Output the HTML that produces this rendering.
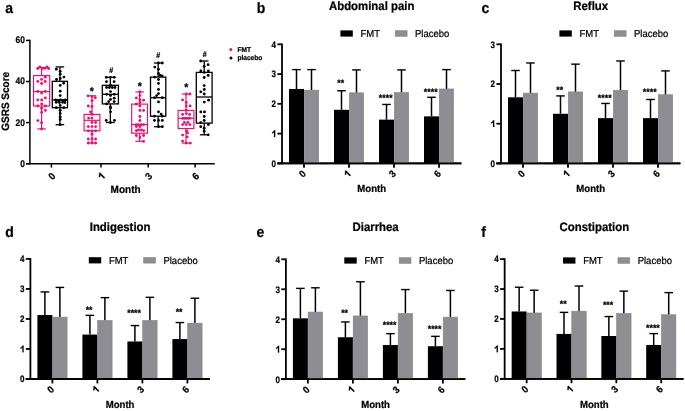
<!DOCTYPE html>
<html><head><meta charset="utf-8"><style>
html,body{margin:0;padding:0;background:#fff;}
svg{display:block;font-family:"Liberation Sans", sans-serif;will-change:transform;text-rendering:geometricPrecision;}
</style></head><body>
<svg width="685" height="411" viewBox="0 0 685 411">
<rect width="685" height="411" fill="#fff"/>
<line x1="29.90" y1="39.80" x2="29.90" y2="164.30" stroke="#000" stroke-width="1.5"/>
<line x1="26.00" y1="163.70" x2="214.80" y2="163.70" stroke="#000" stroke-width="1.5"/>
<line x1="26.00" y1="163.70" x2="29.90" y2="163.70" stroke="#000" stroke-width="1.5"/>
<text x="0.00" y="0.00" font-size="9.6" font-weight="bold" text-anchor="end" fill="#000" stroke="#000" stroke-width="0.22" transform="translate(25.00,166.60) scale(0.88,1.0)">0</text>
<line x1="26.00" y1="122.60" x2="29.90" y2="122.60" stroke="#000" stroke-width="1.5"/>
<text x="0.00" y="0.00" font-size="9.6" font-weight="bold" text-anchor="end" fill="#000" stroke="#000" stroke-width="0.22" transform="translate(25.00,125.50) scale(0.88,1.0)">20</text>
<line x1="26.00" y1="81.50" x2="29.90" y2="81.50" stroke="#000" stroke-width="1.5"/>
<text x="0.00" y="0.00" font-size="9.6" font-weight="bold" text-anchor="end" fill="#000" stroke="#000" stroke-width="0.22" transform="translate(25.00,84.40) scale(0.88,1.0)">40</text>
<line x1="26.00" y1="40.40" x2="29.90" y2="40.40" stroke="#000" stroke-width="1.5"/>
<text x="0.00" y="0.00" font-size="9.6" font-weight="bold" text-anchor="end" fill="#000" stroke="#000" stroke-width="0.22" transform="translate(25.00,43.30) scale(0.88,1.0)">60</text>
<line x1="51.40" y1="163.70" x2="51.40" y2="167.60" stroke="#000" stroke-width="1.5"/>
<text x="0.00" y="3.40" font-size="9.4" font-weight="bold" text-anchor="middle" fill="#000" stroke="#000" stroke-width="0.22" transform="translate(51.70,176.10) rotate(-45) scale(1.0,1.07)">0</text>
<line x1="101.00" y1="163.70" x2="101.00" y2="167.60" stroke="#000" stroke-width="1.5"/>
<path d="M0.445 0L0.300 0L0.300 -0.505C0.245 -0.455 0.160 -0.410 0.065 -0.380L0.065 -0.510C0.125 -0.530 0.195 -0.570 0.250 -0.625C0.290 -0.665 0.318 -0.700 0.332 -0.716L0.445 -0.716Z" fill="#000" stroke="#000" stroke-width="0.0234" transform="translate(101.30,176.10) rotate(-45) scale(1.0,1.07) translate(-2.613,3.400) scale(9.4)"/>
<line x1="148.20" y1="163.70" x2="148.20" y2="167.60" stroke="#000" stroke-width="1.5"/>
<text x="0.00" y="3.40" font-size="9.4" font-weight="bold" text-anchor="middle" fill="#000" stroke="#000" stroke-width="0.22" transform="translate(148.50,176.10) rotate(-45) scale(1.0,1.07)">3</text>
<line x1="195.10" y1="163.70" x2="195.10" y2="167.60" stroke="#000" stroke-width="1.5"/>
<text x="0.00" y="3.40" font-size="9.4" font-weight="bold" text-anchor="middle" fill="#000" stroke="#000" stroke-width="0.22" transform="translate(195.40,176.10) rotate(-45) scale(1.0,1.07)">6</text>
<text x="0.00" y="0.00" font-size="10" font-weight="bold" text-anchor="middle" fill="#000" stroke="#000" stroke-width="0.22" transform="translate(125.60,192.50) scale(1.0,1.07)">Month</text>
<text x="0.00" y="0.00" font-size="10" font-weight="bold" text-anchor="middle" fill="#000" stroke="#000" stroke-width="0.22" transform="translate(8.80,101.30) rotate(-90) scale(1.0,1.07)">GSRS Score</text>
<text x="0.00" y="0.00" font-size="14" font-weight="bold" text-anchor="start" fill="#000" stroke="#000" stroke-width="0.22" transform="translate(5.20,13.10) scale(1.0,1.07)">a</text>
<circle cx="230.8" cy="49.4" r="1.5" fill="#f00a6e"/>
<circle cx="231" cy="58" r="1.5" fill="#000"/>
<text x="0.00" y="0.00" font-size="6.6" font-weight="bold" text-anchor="start" fill="#000" stroke="#000" stroke-width="0.22" transform="translate(237.40,51.90) scale(1.0,1.07)">FMT</text>
<text x="0.00" y="0.00" font-size="6.6" font-weight="bold" text-anchor="start" fill="#000" stroke="#000" stroke-width="0.22" transform="translate(237.40,60.40) scale(1.0,1.07)">placebo</text>
<line x1="41.60" y1="67.40" x2="41.60" y2="75.60" stroke="#f00a6e" stroke-width="1.15"/>
<line x1="41.60" y1="106.00" x2="41.60" y2="128.90" stroke="#f00a6e" stroke-width="1.15"/>
<line x1="37.30" y1="67.40" x2="45.90" y2="67.40" stroke="#f00a6e" stroke-width="1.15"/>
<line x1="37.30" y1="128.90" x2="45.90" y2="128.90" stroke="#f00a6e" stroke-width="1.15"/>
<rect x="33.50" y="75.60" width="16.20" height="30.40" fill="none" stroke="#f00a6e" stroke-width="1.15"/>
<line x1="33.50" y1="91.60" x2="49.70" y2="91.60" stroke="#f00a6e" stroke-width="1.15"/>
<circle cx="37.70" cy="68.50" r="1.42" fill="#f00a6e"/>
<circle cx="39.90" cy="67.00" r="1.42" fill="#f00a6e"/>
<circle cx="42.30" cy="68.30" r="1.42" fill="#f00a6e"/>
<circle cx="44.80" cy="68.30" r="1.42" fill="#f00a6e"/>
<circle cx="47.00" cy="67.00" r="1.42" fill="#f00a6e"/>
<circle cx="48.60" cy="68.50" r="1.42" fill="#f00a6e"/>
<circle cx="45.20" cy="77.20" r="1.42" fill="#f00a6e"/>
<circle cx="41.60" cy="79.40" r="1.42" fill="#f00a6e"/>
<circle cx="37.80" cy="81.40" r="1.42" fill="#f00a6e"/>
<circle cx="45.20" cy="81.40" r="1.42" fill="#f00a6e"/>
<circle cx="41.60" cy="83.50" r="1.42" fill="#f00a6e"/>
<circle cx="37.80" cy="91.40" r="1.42" fill="#f00a6e"/>
<circle cx="41.60" cy="93.00" r="1.42" fill="#f00a6e"/>
<circle cx="45.30" cy="91.40" r="1.42" fill="#f00a6e"/>
<circle cx="45.30" cy="97.90" r="1.42" fill="#f00a6e"/>
<circle cx="37.80" cy="99.90" r="1.42" fill="#f00a6e"/>
<circle cx="41.70" cy="99.90" r="1.42" fill="#f00a6e"/>
<circle cx="41.70" cy="104.00" r="1.42" fill="#f00a6e"/>
<circle cx="37.80" cy="106.00" r="1.42" fill="#f00a6e"/>
<circle cx="45.30" cy="106.00" r="1.42" fill="#f00a6e"/>
<circle cx="41.60" cy="108.20" r="1.42" fill="#f00a6e"/>
<circle cx="45.30" cy="110.30" r="1.42" fill="#f00a6e"/>
<circle cx="41.60" cy="112.30" r="1.42" fill="#f00a6e"/>
<circle cx="37.80" cy="120.60" r="1.42" fill="#f00a6e"/>
<circle cx="41.60" cy="122.70" r="1.42" fill="#f00a6e"/>
<circle cx="41.60" cy="128.90" r="1.42" fill="#f00a6e"/>
<line x1="59.90" y1="66.90" x2="59.90" y2="81.30" stroke="#000" stroke-width="1.3"/>
<line x1="59.90" y1="107.70" x2="59.90" y2="124.70" stroke="#000" stroke-width="1.3"/>
<line x1="55.60" y1="66.90" x2="64.20" y2="66.90" stroke="#000" stroke-width="1.3"/>
<line x1="55.60" y1="124.70" x2="64.20" y2="124.70" stroke="#000" stroke-width="1.3"/>
<rect x="52.30" y="81.30" width="15.20" height="26.40" fill="none" stroke="#000" stroke-width="1.3"/>
<line x1="52.30" y1="99.90" x2="67.50" y2="99.90" stroke="#000" stroke-width="1.3"/>
<circle cx="56.40" cy="69.20" r="1.42" fill="#000"/>
<circle cx="60.20" cy="71.30" r="1.42" fill="#000"/>
<circle cx="60.20" cy="74.20" r="1.42" fill="#000"/>
<circle cx="63.90" cy="77.10" r="1.42" fill="#000"/>
<circle cx="60.20" cy="78.40" r="1.42" fill="#000"/>
<circle cx="56.50" cy="79.50" r="1.42" fill="#000"/>
<circle cx="63.70" cy="83.20" r="1.42" fill="#000"/>
<circle cx="60.20" cy="85.40" r="1.42" fill="#000"/>
<circle cx="60.20" cy="91.20" r="1.42" fill="#000"/>
<circle cx="60.20" cy="95.60" r="1.42" fill="#000"/>
<circle cx="55.60" cy="99.90" r="1.42" fill="#000"/>
<circle cx="58.10" cy="100.40" r="1.42" fill="#000"/>
<circle cx="60.60" cy="99.90" r="1.42" fill="#000"/>
<circle cx="63.10" cy="100.40" r="1.42" fill="#000"/>
<circle cx="65.40" cy="99.90" r="1.42" fill="#000"/>
<circle cx="56.20" cy="102.30" r="1.42" fill="#000"/>
<circle cx="59.40" cy="102.50" r="1.42" fill="#000"/>
<circle cx="62.60" cy="102.30" r="1.42" fill="#000"/>
<circle cx="64.80" cy="102.50" r="1.42" fill="#000"/>
<circle cx="60.20" cy="105.50" r="1.42" fill="#000"/>
<circle cx="56.30" cy="107.70" r="1.42" fill="#000"/>
<circle cx="63.80" cy="107.70" r="1.42" fill="#000"/>
<circle cx="60.20" cy="110.30" r="1.42" fill="#000"/>
<circle cx="60.20" cy="113.50" r="1.42" fill="#000"/>
<circle cx="60.20" cy="116.90" r="1.42" fill="#000"/>
<circle cx="60.20" cy="119.40" r="1.42" fill="#000"/>
<circle cx="60.20" cy="124.70" r="1.42" fill="#000"/>
<line x1="92.00" y1="95.80" x2="92.00" y2="114.40" stroke="#f00a6e" stroke-width="1.15"/>
<line x1="92.00" y1="130.80" x2="92.00" y2="143.00" stroke="#f00a6e" stroke-width="1.15"/>
<line x1="87.70" y1="95.80" x2="96.30" y2="95.80" stroke="#f00a6e" stroke-width="1.15"/>
<line x1="87.70" y1="143.00" x2="96.30" y2="143.00" stroke="#f00a6e" stroke-width="1.15"/>
<rect x="84.10" y="114.40" width="15.80" height="16.40" fill="none" stroke="#f00a6e" stroke-width="1.15"/>
<line x1="84.10" y1="120.30" x2="99.90" y2="120.30" stroke="#f00a6e" stroke-width="1.15"/>
<circle cx="88.00" cy="95.80" r="1.42" fill="#f00a6e"/>
<circle cx="92.00" cy="96.40" r="1.42" fill="#f00a6e"/>
<circle cx="95.30" cy="97.70" r="1.42" fill="#f00a6e"/>
<circle cx="92.00" cy="100.60" r="1.42" fill="#f00a6e"/>
<circle cx="88.30" cy="106.00" r="1.42" fill="#f00a6e"/>
<circle cx="92.00" cy="106.40" r="1.42" fill="#f00a6e"/>
<circle cx="90.50" cy="112.00" r="1.42" fill="#f00a6e"/>
<circle cx="92.00" cy="114.40" r="1.42" fill="#f00a6e"/>
<circle cx="88.60" cy="118.10" r="1.42" fill="#f00a6e"/>
<circle cx="91.90" cy="118.10" r="1.42" fill="#f00a6e"/>
<circle cx="92.00" cy="122.50" r="1.42" fill="#f00a6e"/>
<circle cx="95.60" cy="122.50" r="1.42" fill="#f00a6e"/>
<circle cx="88.30" cy="126.60" r="1.42" fill="#f00a6e"/>
<circle cx="92.00" cy="126.60" r="1.42" fill="#f00a6e"/>
<circle cx="95.60" cy="126.60" r="1.42" fill="#f00a6e"/>
<circle cx="88.30" cy="130.80" r="1.42" fill="#f00a6e"/>
<circle cx="92.00" cy="130.80" r="1.42" fill="#f00a6e"/>
<circle cx="95.60" cy="130.80" r="1.42" fill="#f00a6e"/>
<circle cx="92.00" cy="134.20" r="1.42" fill="#f00a6e"/>
<circle cx="88.30" cy="139.00" r="1.42" fill="#f00a6e"/>
<circle cx="92.00" cy="139.00" r="1.42" fill="#f00a6e"/>
<circle cx="95.60" cy="139.00" r="1.42" fill="#f00a6e"/>
<circle cx="88.30" cy="143.00" r="1.42" fill="#f00a6e"/>
<circle cx="92.00" cy="143.00" r="1.42" fill="#f00a6e"/>
<circle cx="95.60" cy="143.00" r="1.42" fill="#f00a6e"/>
<line x1="110.35" y1="77.30" x2="110.35" y2="85.30" stroke="#000" stroke-width="1.3"/>
<line x1="110.35" y1="103.90" x2="110.35" y2="122.50" stroke="#000" stroke-width="1.3"/>
<line x1="106.05" y1="77.30" x2="114.65" y2="77.30" stroke="#000" stroke-width="1.3"/>
<line x1="106.05" y1="122.50" x2="114.65" y2="122.50" stroke="#000" stroke-width="1.3"/>
<rect x="102.30" y="85.30" width="16.10" height="18.60" fill="none" stroke="#000" stroke-width="1.3"/>
<line x1="102.30" y1="94.30" x2="118.40" y2="94.30" stroke="#000" stroke-width="1.3"/>
<circle cx="106.30" cy="77.30" r="1.42" fill="#000"/>
<circle cx="110.50" cy="77.30" r="1.42" fill="#000"/>
<circle cx="114.30" cy="77.30" r="1.42" fill="#000"/>
<circle cx="106.50" cy="81.70" r="1.42" fill="#000"/>
<circle cx="114.10" cy="81.70" r="1.42" fill="#000"/>
<circle cx="110.50" cy="85.30" r="1.42" fill="#000"/>
<circle cx="106.60" cy="87.50" r="1.42" fill="#000"/>
<circle cx="109.40" cy="87.50" r="1.42" fill="#000"/>
<circle cx="112.30" cy="87.50" r="1.42" fill="#000"/>
<circle cx="115.00" cy="87.50" r="1.42" fill="#000"/>
<circle cx="110.50" cy="91.60" r="1.42" fill="#000"/>
<circle cx="106.60" cy="94.30" r="1.42" fill="#000"/>
<circle cx="114.30" cy="94.30" r="1.42" fill="#000"/>
<circle cx="110.50" cy="95.60" r="1.42" fill="#000"/>
<circle cx="114.20" cy="98.20" r="1.42" fill="#000"/>
<circle cx="110.50" cy="99.40" r="1.42" fill="#000"/>
<circle cx="108.70" cy="101.60" r="1.42" fill="#000"/>
<circle cx="114.20" cy="101.60" r="1.42" fill="#000"/>
<circle cx="106.60" cy="103.90" r="1.42" fill="#000"/>
<circle cx="110.50" cy="106.80" r="1.42" fill="#000"/>
<circle cx="110.50" cy="108.00" r="1.42" fill="#000"/>
<circle cx="110.50" cy="111.80" r="1.42" fill="#000"/>
<circle cx="106.20" cy="120.40" r="1.42" fill="#000"/>
<circle cx="114.50" cy="120.40" r="1.42" fill="#000"/>
<circle cx="110.50" cy="122.50" r="1.42" fill="#000"/>
<line x1="139.60" y1="91.90" x2="139.60" y2="104.10" stroke="#f00a6e" stroke-width="1.15"/>
<line x1="139.60" y1="133.20" x2="139.60" y2="141.30" stroke="#f00a6e" stroke-width="1.15"/>
<line x1="135.30" y1="91.90" x2="143.90" y2="91.90" stroke="#f00a6e" stroke-width="1.15"/>
<line x1="135.30" y1="141.30" x2="143.90" y2="141.30" stroke="#f00a6e" stroke-width="1.15"/>
<rect x="131.70" y="104.10" width="15.80" height="29.10" fill="none" stroke="#f00a6e" stroke-width="1.15"/>
<line x1="131.70" y1="124.60" x2="147.50" y2="124.60" stroke="#f00a6e" stroke-width="1.15"/>
<circle cx="139.90" cy="91.90" r="1.42" fill="#f00a6e"/>
<circle cx="139.90" cy="95.60" r="1.42" fill="#f00a6e"/>
<circle cx="136.30" cy="97.90" r="1.42" fill="#f00a6e"/>
<circle cx="139.90" cy="99.70" r="1.42" fill="#f00a6e"/>
<circle cx="143.60" cy="100.20" r="1.42" fill="#f00a6e"/>
<circle cx="139.90" cy="102.40" r="1.42" fill="#f00a6e"/>
<circle cx="136.30" cy="104.10" r="1.42" fill="#f00a6e"/>
<circle cx="139.90" cy="106.00" r="1.42" fill="#f00a6e"/>
<circle cx="139.90" cy="110.40" r="1.42" fill="#f00a6e"/>
<circle cx="143.60" cy="110.40" r="1.42" fill="#f00a6e"/>
<circle cx="139.90" cy="116.50" r="1.42" fill="#f00a6e"/>
<circle cx="139.90" cy="120.50" r="1.42" fill="#f00a6e"/>
<circle cx="136.20" cy="124.60" r="1.42" fill="#f00a6e"/>
<circle cx="138.60" cy="124.60" r="1.42" fill="#f00a6e"/>
<circle cx="141.20" cy="124.60" r="1.42" fill="#f00a6e"/>
<circle cx="143.60" cy="124.60" r="1.42" fill="#f00a6e"/>
<circle cx="136.30" cy="126.60" r="1.42" fill="#f00a6e"/>
<circle cx="139.90" cy="126.60" r="1.42" fill="#f00a6e"/>
<circle cx="136.30" cy="130.60" r="1.42" fill="#f00a6e"/>
<circle cx="138.50" cy="129.90" r="1.42" fill="#f00a6e"/>
<circle cx="141.30" cy="129.90" r="1.42" fill="#f00a6e"/>
<circle cx="143.60" cy="130.60" r="1.42" fill="#f00a6e"/>
<circle cx="136.30" cy="135.50" r="1.42" fill="#f00a6e"/>
<circle cx="143.60" cy="135.50" r="1.42" fill="#f00a6e"/>
<circle cx="139.90" cy="137.40" r="1.42" fill="#f00a6e"/>
<circle cx="143.60" cy="141.30" r="1.42" fill="#f00a6e"/>
<line x1="158.15" y1="63.00" x2="158.15" y2="77.10" stroke="#000" stroke-width="1.3"/>
<line x1="158.15" y1="116.20" x2="158.15" y2="126.70" stroke="#000" stroke-width="1.3"/>
<line x1="153.85" y1="63.00" x2="162.45" y2="63.00" stroke="#000" stroke-width="1.3"/>
<line x1="153.85" y1="126.70" x2="162.45" y2="126.70" stroke="#000" stroke-width="1.3"/>
<rect x="150.50" y="77.10" width="15.30" height="39.10" fill="none" stroke="#000" stroke-width="1.3"/>
<line x1="150.50" y1="97.70" x2="165.80" y2="97.70" stroke="#000" stroke-width="1.3"/>
<circle cx="158.50" cy="63.00" r="1.42" fill="#000"/>
<circle cx="162.30" cy="63.00" r="1.42" fill="#000"/>
<circle cx="154.80" cy="67.10" r="1.42" fill="#000"/>
<circle cx="158.50" cy="69.30" r="1.42" fill="#000"/>
<circle cx="158.50" cy="73.40" r="1.42" fill="#000"/>
<circle cx="160.10" cy="75.40" r="1.42" fill="#000"/>
<circle cx="162.10" cy="75.80" r="1.42" fill="#000"/>
<circle cx="154.80" cy="77.10" r="1.42" fill="#000"/>
<circle cx="158.50" cy="79.50" r="1.42" fill="#000"/>
<circle cx="158.50" cy="83.40" r="1.42" fill="#000"/>
<circle cx="158.50" cy="89.50" r="1.42" fill="#000"/>
<circle cx="158.50" cy="93.60" r="1.42" fill="#000"/>
<circle cx="156.70" cy="95.60" r="1.42" fill="#000"/>
<circle cx="154.50" cy="97.70" r="1.42" fill="#000"/>
<circle cx="162.30" cy="97.70" r="1.42" fill="#000"/>
<circle cx="158.50" cy="101.90" r="1.42" fill="#000"/>
<circle cx="158.50" cy="111.80" r="1.42" fill="#000"/>
<circle cx="161.10" cy="114.10" r="1.42" fill="#000"/>
<circle cx="154.50" cy="116.20" r="1.42" fill="#000"/>
<circle cx="162.30" cy="116.20" r="1.42" fill="#000"/>
<circle cx="154.50" cy="120.40" r="1.42" fill="#000"/>
<circle cx="158.50" cy="120.40" r="1.42" fill="#000"/>
<circle cx="162.30" cy="120.40" r="1.42" fill="#000"/>
<circle cx="158.50" cy="126.70" r="1.42" fill="#000"/>
<circle cx="162.30" cy="126.70" r="1.42" fill="#000"/>
<line x1="186.00" y1="94.00" x2="186.00" y2="110.40" stroke="#f00a6e" stroke-width="1.15"/>
<line x1="186.00" y1="128.50" x2="186.00" y2="143.10" stroke="#f00a6e" stroke-width="1.15"/>
<line x1="181.70" y1="94.00" x2="190.30" y2="94.00" stroke="#f00a6e" stroke-width="1.15"/>
<line x1="181.70" y1="143.10" x2="190.30" y2="143.10" stroke="#f00a6e" stroke-width="1.15"/>
<rect x="178.10" y="110.40" width="15.80" height="18.10" fill="none" stroke="#f00a6e" stroke-width="1.15"/>
<line x1="178.10" y1="118.30" x2="193.90" y2="118.30" stroke="#f00a6e" stroke-width="1.15"/>
<circle cx="186.20" cy="94.00" r="1.42" fill="#f00a6e"/>
<circle cx="190.00" cy="94.00" r="1.42" fill="#f00a6e"/>
<circle cx="182.60" cy="99.90" r="1.42" fill="#f00a6e"/>
<circle cx="186.20" cy="102.40" r="1.42" fill="#f00a6e"/>
<circle cx="186.20" cy="106.00" r="1.42" fill="#f00a6e"/>
<circle cx="190.10" cy="106.00" r="1.42" fill="#f00a6e"/>
<circle cx="186.20" cy="110.40" r="1.42" fill="#f00a6e"/>
<circle cx="182.60" cy="114.40" r="1.42" fill="#f00a6e"/>
<circle cx="186.30" cy="113.60" r="1.42" fill="#f00a6e"/>
<circle cx="189.60" cy="114.40" r="1.42" fill="#f00a6e"/>
<circle cx="182.60" cy="118.30" r="1.42" fill="#f00a6e"/>
<circle cx="184.40" cy="118.30" r="1.42" fill="#f00a6e"/>
<circle cx="186.20" cy="118.30" r="1.42" fill="#f00a6e"/>
<circle cx="188.00" cy="118.30" r="1.42" fill="#f00a6e"/>
<circle cx="190.00" cy="118.30" r="1.42" fill="#f00a6e"/>
<circle cx="182.60" cy="124.60" r="1.42" fill="#f00a6e"/>
<circle cx="184.40" cy="122.40" r="1.42" fill="#f00a6e"/>
<circle cx="186.20" cy="124.60" r="1.42" fill="#f00a6e"/>
<circle cx="188.00" cy="122.40" r="1.42" fill="#f00a6e"/>
<circle cx="190.00" cy="124.60" r="1.42" fill="#f00a6e"/>
<circle cx="186.70" cy="130.90" r="1.42" fill="#f00a6e"/>
<circle cx="187.50" cy="132.90" r="1.42" fill="#f00a6e"/>
<circle cx="182.60" cy="135.10" r="1.42" fill="#f00a6e"/>
<circle cx="187.20" cy="136.80" r="1.42" fill="#f00a6e"/>
<circle cx="182.60" cy="141.10" r="1.42" fill="#f00a6e"/>
<circle cx="186.20" cy="143.10" r="1.42" fill="#f00a6e"/>
<circle cx="190.40" cy="143.10" r="1.42" fill="#f00a6e"/>
<line x1="204.20" y1="61.00" x2="204.20" y2="72.40" stroke="#000" stroke-width="1.3"/>
<line x1="204.20" y1="123.10" x2="204.20" y2="134.80" stroke="#000" stroke-width="1.3"/>
<line x1="199.90" y1="61.00" x2="208.50" y2="61.00" stroke="#000" stroke-width="1.3"/>
<line x1="199.90" y1="134.80" x2="208.50" y2="134.80" stroke="#000" stroke-width="1.3"/>
<rect x="196.30" y="72.40" width="15.80" height="50.70" fill="none" stroke="#000" stroke-width="1.3"/>
<line x1="196.30" y1="97.00" x2="212.10" y2="97.00" stroke="#000" stroke-width="1.3"/>
<circle cx="200.70" cy="61.00" r="1.42" fill="#000"/>
<circle cx="208.10" cy="64.70" r="1.42" fill="#000"/>
<circle cx="204.20" cy="66.30" r="1.42" fill="#000"/>
<circle cx="200.80" cy="71.00" r="1.42" fill="#000"/>
<circle cx="204.20" cy="72.40" r="1.42" fill="#000"/>
<circle cx="208.40" cy="71.00" r="1.42" fill="#000"/>
<circle cx="208.20" cy="75.40" r="1.42" fill="#000"/>
<circle cx="204.20" cy="77.50" r="1.42" fill="#000"/>
<circle cx="204.20" cy="85.60" r="1.42" fill="#000"/>
<circle cx="204.30" cy="89.50" r="1.42" fill="#000"/>
<circle cx="200.80" cy="91.80" r="1.42" fill="#000"/>
<circle cx="204.20" cy="94.00" r="1.42" fill="#000"/>
<circle cx="208.60" cy="100.20" r="1.42" fill="#000"/>
<circle cx="204.30" cy="102.10" r="1.42" fill="#000"/>
<circle cx="200.80" cy="111.90" r="1.42" fill="#000"/>
<circle cx="204.50" cy="111.90" r="1.42" fill="#000"/>
<circle cx="204.20" cy="116.50" r="1.42" fill="#000"/>
<circle cx="204.20" cy="120.50" r="1.42" fill="#000"/>
<circle cx="200.80" cy="122.60" r="1.42" fill="#000"/>
<circle cx="208.30" cy="124.60" r="1.42" fill="#000"/>
<circle cx="200.80" cy="126.70" r="1.42" fill="#000"/>
<circle cx="204.20" cy="128.20" r="1.42" fill="#000"/>
<circle cx="204.20" cy="131.20" r="1.42" fill="#000"/>
<circle cx="208.20" cy="134.80" r="1.42" fill="#000"/>
<text x="0.00" y="0.00" font-size="10.5" font-weight="bold" text-anchor="middle" fill="#000" stroke="#000" stroke-width="0.22" transform="translate(91.90,94.60) scale(1.0,1.07)">*</text>
<text x="0.00" y="0.00" font-size="10.5" font-weight="bold" text-anchor="middle" fill="#000" stroke="#000" stroke-width="0.22" transform="translate(139.90,89.50) scale(1.0,1.07)">*</text>
<text x="0.00" y="0.00" font-size="10.5" font-weight="bold" text-anchor="middle" fill="#000" stroke="#000" stroke-width="0.22" transform="translate(186.20,91.40) scale(1.0,1.07)">*</text>
<text x="0.00" y="0.00" font-size="7.6" font-weight="bold" text-anchor="middle" fill="#000" stroke="#000" stroke-width="0.22" transform="translate(111.10,72.70) scale(0.92,1.07)">#</text>
<text x="0.00" y="0.00" font-size="7.6" font-weight="bold" text-anchor="middle" fill="#000" stroke="#000" stroke-width="0.22" transform="translate(158.20,57.70) scale(0.92,1.07)">#</text>
<text x="0.00" y="0.00" font-size="7.6" font-weight="bold" text-anchor="middle" fill="#000" stroke="#000" stroke-width="0.22" transform="translate(204.70,57.40) scale(0.92,1.07)">#</text>
<line x1="282.00" y1="43.40" x2="282.00" y2="164.30" stroke="#000" stroke-width="1.8"/>
<line x1="277.40" y1="163.40" x2="461.40" y2="163.40" stroke="#000" stroke-width="1.8"/>
<line x1="277.40" y1="163.40" x2="282.00" y2="163.40" stroke="#000" stroke-width="1.8"/>
<text x="0.00" y="0.00" font-size="9.4" font-weight="bold" text-anchor="end" fill="#000" stroke="#000" stroke-width="0.22" transform="translate(276.10,166.75) scale(0.86,1.0)">0</text>
<line x1="277.40" y1="133.62" x2="282.00" y2="133.62" stroke="#000" stroke-width="1.8"/>
<path d="M0.445 0L0.300 0L0.300 -0.505C0.245 -0.455 0.160 -0.410 0.065 -0.380L0.065 -0.510C0.125 -0.530 0.195 -0.570 0.250 -0.625C0.290 -0.665 0.318 -0.700 0.332 -0.716L0.445 -0.716Z" fill="#000" stroke="#000" stroke-width="0.0234" transform="translate(276.10,136.97) scale(0.86,1.0) translate(-5.226,0.000) scale(9.4)"/>
<line x1="277.40" y1="103.85" x2="282.00" y2="103.85" stroke="#000" stroke-width="1.8"/>
<text x="0.00" y="0.00" font-size="9.4" font-weight="bold" text-anchor="end" fill="#000" stroke="#000" stroke-width="0.22" transform="translate(276.10,107.20) scale(0.86,1.0)">2</text>
<line x1="277.40" y1="74.08" x2="282.00" y2="74.08" stroke="#000" stroke-width="1.8"/>
<text x="0.00" y="0.00" font-size="9.4" font-weight="bold" text-anchor="end" fill="#000" stroke="#000" stroke-width="0.22" transform="translate(276.10,77.42) scale(0.86,1.0)">3</text>
<line x1="277.40" y1="44.30" x2="282.00" y2="44.30" stroke="#000" stroke-width="1.8"/>
<text x="0.00" y="0.00" font-size="9.4" font-weight="bold" text-anchor="end" fill="#000" stroke="#000" stroke-width="0.22" transform="translate(276.10,47.65) scale(0.86,1.0)">4</text>
<line x1="296.50" y1="69.61" x2="296.50" y2="88.96" stroke="#000" stroke-width="1.5"/>
<line x1="292.20" y1="69.61" x2="300.80" y2="69.61" stroke="#000" stroke-width="1.4"/>
<line x1="311.50" y1="69.61" x2="311.50" y2="90.15" stroke="#000" stroke-width="1.5"/>
<line x1="307.20" y1="69.61" x2="315.80" y2="69.61" stroke="#000" stroke-width="1.4"/>
<rect x="289.00" y="88.96" width="15.00" height="74.44" fill="#000"/>
<rect x="304.30" y="90.15" width="14.40" height="73.25" fill="#8e8d93" stroke="#828187" stroke-width="0.6"/>
<line x1="304.00" y1="163.40" x2="304.00" y2="167.80" stroke="#000" stroke-width="1.8"/>
<text x="0.00" y="3.30" font-size="9.2" font-weight="bold" text-anchor="middle" fill="#000" stroke="#000" stroke-width="0.22" transform="translate(302.20,173.80) rotate(-45) scale(1.0,1.07)">0</text>
<line x1="341.50" y1="90.75" x2="341.50" y2="109.81" stroke="#000" stroke-width="1.5"/>
<line x1="337.20" y1="90.75" x2="345.80" y2="90.75" stroke="#000" stroke-width="1.4"/>
<line x1="356.50" y1="69.91" x2="356.50" y2="92.83" stroke="#000" stroke-width="1.5"/>
<line x1="352.20" y1="69.91" x2="360.80" y2="69.91" stroke="#000" stroke-width="1.4"/>
<rect x="334.00" y="109.81" width="15.00" height="53.59" fill="#000"/>
<rect x="349.30" y="92.83" width="14.40" height="70.57" fill="#8e8d93" stroke="#828187" stroke-width="0.6"/>
<line x1="349.00" y1="163.40" x2="349.00" y2="167.80" stroke="#000" stroke-width="1.8"/>
<path d="M0.445 0L0.300 0L0.300 -0.505C0.245 -0.455 0.160 -0.410 0.065 -0.380L0.065 -0.510C0.125 -0.530 0.195 -0.570 0.250 -0.625C0.290 -0.665 0.318 -0.700 0.332 -0.716L0.445 -0.716Z" fill="#000" stroke="#000" stroke-width="0.0239" transform="translate(347.20,173.80) rotate(-45) scale(1.0,1.07) translate(-2.558,3.300) scale(9.2)"/>
<text x="0.00" y="0.00" font-size="8.8" font-weight="bold" text-anchor="middle" fill="#000" stroke="#000" stroke-width="0.22" transform="translate(340.70,85.50) scale(1.0,1.07)">**</text>
<line x1="386.50" y1="104.45" x2="386.50" y2="119.63" stroke="#000" stroke-width="1.5"/>
<line x1="382.20" y1="104.45" x2="390.80" y2="104.45" stroke="#000" stroke-width="1.4"/>
<line x1="401.50" y1="69.91" x2="401.50" y2="92.54" stroke="#000" stroke-width="1.5"/>
<line x1="397.20" y1="69.91" x2="405.80" y2="69.91" stroke="#000" stroke-width="1.4"/>
<rect x="379.00" y="119.63" width="15.00" height="43.77" fill="#000"/>
<rect x="394.30" y="92.54" width="14.40" height="70.86" fill="#8e8d93" stroke="#828187" stroke-width="0.6"/>
<line x1="394.00" y1="163.40" x2="394.00" y2="167.80" stroke="#000" stroke-width="1.8"/>
<text x="0.00" y="3.30" font-size="9.2" font-weight="bold" text-anchor="middle" fill="#000" stroke="#000" stroke-width="0.22" transform="translate(392.20,173.80) rotate(-45) scale(1.0,1.07)">3</text>
<text x="0.00" y="0.00" font-size="8.8" font-weight="bold" text-anchor="middle" fill="#000" stroke="#000" stroke-width="0.22" transform="translate(385.70,101.00) scale(1.0,1.07)">****</text>
<line x1="431.50" y1="97.30" x2="431.50" y2="116.36" stroke="#000" stroke-width="1.5"/>
<line x1="427.20" y1="97.30" x2="435.80" y2="97.30" stroke="#000" stroke-width="1.4"/>
<line x1="446.50" y1="69.61" x2="446.50" y2="88.96" stroke="#000" stroke-width="1.5"/>
<line x1="442.20" y1="69.61" x2="450.80" y2="69.61" stroke="#000" stroke-width="1.4"/>
<rect x="424.00" y="116.36" width="15.00" height="47.04" fill="#000"/>
<rect x="439.30" y="88.96" width="14.40" height="74.44" fill="#8e8d93" stroke="#828187" stroke-width="0.6"/>
<line x1="439.00" y1="163.40" x2="439.00" y2="167.80" stroke="#000" stroke-width="1.8"/>
<text x="0.00" y="3.30" font-size="9.2" font-weight="bold" text-anchor="middle" fill="#000" stroke="#000" stroke-width="0.22" transform="translate(437.20,173.80) rotate(-45) scale(1.0,1.07)">6</text>
<text x="0.00" y="0.00" font-size="8.8" font-weight="bold" text-anchor="middle" fill="#000" stroke="#000" stroke-width="0.22" transform="translate(430.70,94.70) scale(1.0,1.07)">****</text>
<line x1="277.40" y1="163.40" x2="461.40" y2="163.40" stroke="#000" stroke-width="1.8"/>
<text x="0.00" y="0.00" font-size="11.4" font-weight="bold" text-anchor="middle" fill="#000" stroke="#000" stroke-width="0.22" transform="translate(371.70,9.80) scale(1.0,1.07)">Abdominal pain</text>
<text x="0.00" y="0.00" font-size="9.6" font-weight="bold" text-anchor="middle" fill="#000" stroke="#000" stroke-width="0.22" transform="translate(371.70,192.10) scale(1.0,1.07)">Month</text>
<rect x="340.40" y="30.40" width="12.40" height="6.20" fill="#000"/>
<text x="0.00" y="0.00" font-size="9.5" font-weight="normal" text-anchor="start" fill="#000" stroke="#000" stroke-width="0.22" transform="translate(360.50,36.70) scale(1.0,1.07)">FMT</text>
<rect x="395.30" y="30.70" width="11.8" height="5.6" fill="#8e8d93" stroke="#828187" stroke-width="0.6"/>
<text x="0.00" y="0.00" font-size="9.5" font-weight="normal" text-anchor="start" fill="#000" stroke="#000" stroke-width="0.22" transform="translate(415.00,36.70) scale(1.0,1.07)">Placebo</text>
<text x="0.00" y="0.00" font-size="14" font-weight="bold" text-anchor="start" fill="#000" stroke="#000" stroke-width="0.22" transform="translate(256.80,12.90) scale(1.0,1.07)">b</text>
<line x1="501.00" y1="43.40" x2="501.00" y2="164.30" stroke="#000" stroke-width="1.8"/>
<line x1="496.40" y1="163.40" x2="680.40" y2="163.40" stroke="#000" stroke-width="1.8"/>
<line x1="496.40" y1="163.40" x2="501.00" y2="163.40" stroke="#000" stroke-width="1.8"/>
<text x="0.00" y="0.00" font-size="9.4" font-weight="bold" text-anchor="end" fill="#000" stroke="#000" stroke-width="0.22" transform="translate(495.10,166.75) scale(0.86,1.0)">0</text>
<line x1="496.40" y1="123.70" x2="501.00" y2="123.70" stroke="#000" stroke-width="1.8"/>
<path d="M0.445 0L0.300 0L0.300 -0.505C0.245 -0.455 0.160 -0.410 0.065 -0.380L0.065 -0.510C0.125 -0.530 0.195 -0.570 0.250 -0.625C0.290 -0.665 0.318 -0.700 0.332 -0.716L0.445 -0.716Z" fill="#000" stroke="#000" stroke-width="0.0234" transform="translate(495.10,127.05) scale(0.86,1.0) translate(-5.226,0.000) scale(9.4)"/>
<line x1="496.40" y1="84.00" x2="501.00" y2="84.00" stroke="#000" stroke-width="1.8"/>
<text x="0.00" y="0.00" font-size="9.4" font-weight="bold" text-anchor="end" fill="#000" stroke="#000" stroke-width="0.22" transform="translate(495.10,87.35) scale(0.86,1.0)">2</text>
<line x1="496.40" y1="44.30" x2="501.00" y2="44.30" stroke="#000" stroke-width="1.8"/>
<text x="0.00" y="0.00" font-size="9.4" font-weight="bold" text-anchor="end" fill="#000" stroke="#000" stroke-width="0.22" transform="translate(495.10,47.65) scale(0.86,1.0)">3</text>
<line x1="515.50" y1="70.50" x2="515.50" y2="97.30" stroke="#000" stroke-width="1.5"/>
<line x1="511.20" y1="70.50" x2="519.80" y2="70.50" stroke="#000" stroke-width="1.4"/>
<line x1="530.50" y1="62.96" x2="530.50" y2="93.13" stroke="#000" stroke-width="1.5"/>
<line x1="526.20" y1="62.96" x2="534.80" y2="62.96" stroke="#000" stroke-width="1.4"/>
<rect x="508.00" y="97.30" width="15.00" height="66.10" fill="#000"/>
<rect x="523.30" y="93.13" width="14.40" height="70.27" fill="#8e8d93" stroke="#828187" stroke-width="0.6"/>
<line x1="523.00" y1="163.40" x2="523.00" y2="167.80" stroke="#000" stroke-width="1.8"/>
<text x="0.00" y="3.30" font-size="9.2" font-weight="bold" text-anchor="middle" fill="#000" stroke="#000" stroke-width="0.22" transform="translate(521.20,173.80) rotate(-45) scale(1.0,1.07)">0</text>
<line x1="560.50" y1="95.91" x2="560.50" y2="113.78" stroke="#000" stroke-width="1.5"/>
<line x1="556.20" y1="95.91" x2="564.80" y2="95.91" stroke="#000" stroke-width="1.4"/>
<line x1="575.50" y1="64.15" x2="575.50" y2="91.94" stroke="#000" stroke-width="1.5"/>
<line x1="571.20" y1="64.15" x2="579.80" y2="64.15" stroke="#000" stroke-width="1.4"/>
<rect x="553.00" y="113.78" width="15.00" height="49.62" fill="#000"/>
<rect x="568.30" y="91.94" width="14.40" height="71.46" fill="#8e8d93" stroke="#828187" stroke-width="0.6"/>
<line x1="568.00" y1="163.40" x2="568.00" y2="167.80" stroke="#000" stroke-width="1.8"/>
<path d="M0.445 0L0.300 0L0.300 -0.505C0.245 -0.455 0.160 -0.410 0.065 -0.380L0.065 -0.510C0.125 -0.530 0.195 -0.570 0.250 -0.625C0.290 -0.665 0.318 -0.700 0.332 -0.716L0.445 -0.716Z" fill="#000" stroke="#000" stroke-width="0.0239" transform="translate(566.20,173.80) rotate(-45) scale(1.0,1.07) translate(-2.558,3.300) scale(9.2)"/>
<text x="0.00" y="0.00" font-size="8.8" font-weight="bold" text-anchor="middle" fill="#000" stroke="#000" stroke-width="0.22" transform="translate(559.70,92.50) scale(1.0,1.07)">**</text>
<line x1="605.50" y1="103.45" x2="605.50" y2="118.14" stroke="#000" stroke-width="1.5"/>
<line x1="601.20" y1="103.45" x2="609.80" y2="103.45" stroke="#000" stroke-width="1.4"/>
<line x1="620.50" y1="60.97" x2="620.50" y2="90.35" stroke="#000" stroke-width="1.5"/>
<line x1="616.20" y1="60.97" x2="624.80" y2="60.97" stroke="#000" stroke-width="1.4"/>
<rect x="598.00" y="118.14" width="15.00" height="45.26" fill="#000"/>
<rect x="613.30" y="90.35" width="14.40" height="73.05" fill="#8e8d93" stroke="#828187" stroke-width="0.6"/>
<line x1="613.00" y1="163.40" x2="613.00" y2="167.80" stroke="#000" stroke-width="1.8"/>
<text x="0.00" y="3.30" font-size="9.2" font-weight="bold" text-anchor="middle" fill="#000" stroke="#000" stroke-width="0.22" transform="translate(611.20,173.80) rotate(-45) scale(1.0,1.07)">3</text>
<text x="0.00" y="0.00" font-size="8.8" font-weight="bold" text-anchor="middle" fill="#000" stroke="#000" stroke-width="0.22" transform="translate(604.70,101.20) scale(1.0,1.07)">****</text>
<line x1="650.50" y1="99.48" x2="650.50" y2="118.14" stroke="#000" stroke-width="1.5"/>
<line x1="646.20" y1="99.48" x2="654.80" y2="99.48" stroke="#000" stroke-width="1.4"/>
<line x1="665.50" y1="70.90" x2="665.50" y2="94.72" stroke="#000" stroke-width="1.5"/>
<line x1="661.20" y1="70.90" x2="669.80" y2="70.90" stroke="#000" stroke-width="1.4"/>
<rect x="643.00" y="118.14" width="15.00" height="45.26" fill="#000"/>
<rect x="658.30" y="94.72" width="14.40" height="68.68" fill="#8e8d93" stroke="#828187" stroke-width="0.6"/>
<line x1="658.00" y1="163.40" x2="658.00" y2="167.80" stroke="#000" stroke-width="1.8"/>
<text x="0.00" y="3.30" font-size="9.2" font-weight="bold" text-anchor="middle" fill="#000" stroke="#000" stroke-width="0.22" transform="translate(656.20,173.80) rotate(-45) scale(1.0,1.07)">6</text>
<text x="0.00" y="0.00" font-size="8.8" font-weight="bold" text-anchor="middle" fill="#000" stroke="#000" stroke-width="0.22" transform="translate(649.70,94.50) scale(1.0,1.07)">****</text>
<line x1="496.40" y1="163.40" x2="680.40" y2="163.40" stroke="#000" stroke-width="1.8"/>
<text x="0.00" y="0.00" font-size="11.4" font-weight="bold" text-anchor="middle" fill="#000" stroke="#000" stroke-width="0.22" transform="translate(590.70,9.80) scale(1.0,1.07)">Reflux</text>
<text x="0.00" y="0.00" font-size="9.6" font-weight="bold" text-anchor="middle" fill="#000" stroke="#000" stroke-width="0.22" transform="translate(590.70,192.10) scale(1.0,1.07)">Month</text>
<rect x="559.40" y="30.40" width="12.40" height="6.20" fill="#000"/>
<text x="0.00" y="0.00" font-size="9.5" font-weight="normal" text-anchor="start" fill="#000" stroke="#000" stroke-width="0.22" transform="translate(579.50,36.70) scale(1.0,1.07)">FMT</text>
<rect x="614.30" y="30.70" width="11.8" height="5.6" fill="#8e8d93" stroke="#828187" stroke-width="0.6"/>
<text x="0.00" y="0.00" font-size="9.5" font-weight="normal" text-anchor="start" fill="#000" stroke="#000" stroke-width="0.22" transform="translate(634.00,36.70) scale(1.0,1.07)">Placebo</text>
<text x="0.00" y="0.00" font-size="14" font-weight="bold" text-anchor="start" fill="#000" stroke="#000" stroke-width="0.22" transform="translate(481.50,13.20) scale(1.0,1.07)">c</text>
<line x1="30.40" y1="258.00" x2="30.40" y2="379.90" stroke="#000" stroke-width="1.8"/>
<line x1="25.80" y1="379.00" x2="209.80" y2="379.00" stroke="#000" stroke-width="1.8"/>
<line x1="25.80" y1="379.00" x2="30.40" y2="379.00" stroke="#000" stroke-width="1.8"/>
<text x="0.00" y="0.00" font-size="9.4" font-weight="bold" text-anchor="end" fill="#000" stroke="#000" stroke-width="0.22" transform="translate(24.50,382.35) scale(0.86,1.0)">0</text>
<line x1="25.80" y1="348.98" x2="30.40" y2="348.98" stroke="#000" stroke-width="1.8"/>
<path d="M0.445 0L0.300 0L0.300 -0.505C0.245 -0.455 0.160 -0.410 0.065 -0.380L0.065 -0.510C0.125 -0.530 0.195 -0.570 0.250 -0.625C0.290 -0.665 0.318 -0.700 0.332 -0.716L0.445 -0.716Z" fill="#000" stroke="#000" stroke-width="0.0234" transform="translate(24.50,352.33) scale(0.86,1.0) translate(-5.226,0.000) scale(9.4)"/>
<line x1="25.80" y1="318.95" x2="30.40" y2="318.95" stroke="#000" stroke-width="1.8"/>
<text x="0.00" y="0.00" font-size="9.4" font-weight="bold" text-anchor="end" fill="#000" stroke="#000" stroke-width="0.22" transform="translate(24.50,322.30) scale(0.86,1.0)">2</text>
<line x1="25.80" y1="288.92" x2="30.40" y2="288.92" stroke="#000" stroke-width="1.8"/>
<text x="0.00" y="0.00" font-size="9.4" font-weight="bold" text-anchor="end" fill="#000" stroke="#000" stroke-width="0.22" transform="translate(24.50,292.27) scale(0.86,1.0)">3</text>
<line x1="25.80" y1="258.90" x2="30.40" y2="258.90" stroke="#000" stroke-width="1.8"/>
<text x="0.00" y="0.00" font-size="9.4" font-weight="bold" text-anchor="end" fill="#000" stroke="#000" stroke-width="0.22" transform="translate(24.50,262.25) scale(0.86,1.0)">4</text>
<line x1="44.90" y1="291.93" x2="44.90" y2="315.05" stroke="#000" stroke-width="1.5"/>
<line x1="40.60" y1="291.93" x2="49.20" y2="291.93" stroke="#000" stroke-width="1.4"/>
<line x1="59.90" y1="287.42" x2="59.90" y2="317.15" stroke="#000" stroke-width="1.5"/>
<line x1="55.60" y1="287.42" x2="64.20" y2="287.42" stroke="#000" stroke-width="1.4"/>
<rect x="37.40" y="315.05" width="15.00" height="63.95" fill="#000"/>
<rect x="52.70" y="317.15" width="14.40" height="61.85" fill="#8e8d93" stroke="#828187" stroke-width="0.6"/>
<line x1="52.40" y1="379.00" x2="52.40" y2="383.40" stroke="#000" stroke-width="1.8"/>
<text x="0.00" y="3.30" font-size="9.2" font-weight="bold" text-anchor="middle" fill="#000" stroke="#000" stroke-width="0.22" transform="translate(50.60,389.40) rotate(-45) scale(1.0,1.07)">0</text>
<line x1="89.90" y1="315.35" x2="89.90" y2="334.56" stroke="#000" stroke-width="1.5"/>
<line x1="85.60" y1="315.35" x2="94.20" y2="315.35" stroke="#000" stroke-width="1.4"/>
<line x1="104.90" y1="297.63" x2="104.90" y2="320.45" stroke="#000" stroke-width="1.5"/>
<line x1="100.60" y1="297.63" x2="109.20" y2="297.63" stroke="#000" stroke-width="1.4"/>
<rect x="82.40" y="334.56" width="15.00" height="44.44" fill="#000"/>
<rect x="97.70" y="320.45" width="14.40" height="58.55" fill="#8e8d93" stroke="#828187" stroke-width="0.6"/>
<line x1="97.40" y1="379.00" x2="97.40" y2="383.40" stroke="#000" stroke-width="1.8"/>
<path d="M0.445 0L0.300 0L0.300 -0.505C0.245 -0.455 0.160 -0.410 0.065 -0.380L0.065 -0.510C0.125 -0.530 0.195 -0.570 0.250 -0.625C0.290 -0.665 0.318 -0.700 0.332 -0.716L0.445 -0.716Z" fill="#000" stroke="#000" stroke-width="0.0239" transform="translate(95.60,389.40) rotate(-45) scale(1.0,1.07) translate(-2.558,3.300) scale(9.2)"/>
<text x="0.00" y="0.00" font-size="8.8" font-weight="bold" text-anchor="middle" fill="#000" stroke="#000" stroke-width="0.22" transform="translate(89.10,312.50) scale(1.0,1.07)">**</text>
<line x1="134.90" y1="325.56" x2="134.90" y2="341.47" stroke="#000" stroke-width="1.5"/>
<line x1="130.60" y1="325.56" x2="139.20" y2="325.56" stroke="#000" stroke-width="1.4"/>
<line x1="149.90" y1="297.33" x2="149.90" y2="320.45" stroke="#000" stroke-width="1.5"/>
<line x1="145.60" y1="297.33" x2="154.20" y2="297.33" stroke="#000" stroke-width="1.4"/>
<rect x="127.40" y="341.47" width="15.00" height="37.53" fill="#000"/>
<rect x="142.70" y="320.45" width="14.40" height="58.55" fill="#8e8d93" stroke="#828187" stroke-width="0.6"/>
<line x1="142.40" y1="379.00" x2="142.40" y2="383.40" stroke="#000" stroke-width="1.8"/>
<text x="0.00" y="3.30" font-size="9.2" font-weight="bold" text-anchor="middle" fill="#000" stroke="#000" stroke-width="0.22" transform="translate(140.60,389.40) rotate(-45) scale(1.0,1.07)">3</text>
<text x="0.00" y="0.00" font-size="8.8" font-weight="bold" text-anchor="middle" fill="#000" stroke="#000" stroke-width="0.22" transform="translate(134.10,315.60) scale(1.0,1.07)">****</text>
<line x1="179.90" y1="322.55" x2="179.90" y2="339.07" stroke="#000" stroke-width="1.5"/>
<line x1="175.60" y1="322.55" x2="184.20" y2="322.55" stroke="#000" stroke-width="1.4"/>
<line x1="194.90" y1="298.23" x2="194.90" y2="323.15" stroke="#000" stroke-width="1.5"/>
<line x1="190.60" y1="298.23" x2="199.20" y2="298.23" stroke="#000" stroke-width="1.4"/>
<rect x="172.40" y="339.07" width="15.00" height="39.93" fill="#000"/>
<rect x="187.70" y="323.15" width="14.40" height="55.85" fill="#8e8d93" stroke="#828187" stroke-width="0.6"/>
<line x1="187.40" y1="379.00" x2="187.40" y2="383.40" stroke="#000" stroke-width="1.8"/>
<text x="0.00" y="3.30" font-size="9.2" font-weight="bold" text-anchor="middle" fill="#000" stroke="#000" stroke-width="0.22" transform="translate(185.60,389.40) rotate(-45) scale(1.0,1.07)">6</text>
<text x="0.00" y="0.00" font-size="8.8" font-weight="bold" text-anchor="middle" fill="#000" stroke="#000" stroke-width="0.22" transform="translate(179.10,315.40) scale(1.0,1.07)">**</text>
<line x1="25.80" y1="379.00" x2="209.80" y2="379.00" stroke="#000" stroke-width="1.8"/>
<text x="0.00" y="0.00" font-size="11.4" font-weight="bold" text-anchor="middle" fill="#000" stroke="#000" stroke-width="0.22" transform="translate(120.10,231.20) scale(1.0,1.07)">Indigestion</text>
<text x="0.00" y="0.00" font-size="9.6" font-weight="bold" text-anchor="middle" fill="#000" stroke="#000" stroke-width="0.22" transform="translate(120.10,407.70) scale(1.0,1.07)">Month</text>
<rect x="88.80" y="257.20" width="12.40" height="6.20" fill="#000"/>
<text x="0.00" y="0.00" font-size="9.5" font-weight="normal" text-anchor="start" fill="#000" stroke="#000" stroke-width="0.22" transform="translate(108.90,263.50) scale(1.0,1.07)">FMT</text>
<rect x="143.70" y="257.50" width="11.8" height="5.6" fill="#8e8d93" stroke="#828187" stroke-width="0.6"/>
<text x="0.00" y="0.00" font-size="9.5" font-weight="normal" text-anchor="start" fill="#000" stroke="#000" stroke-width="0.22" transform="translate(163.40,263.50) scale(1.0,1.07)">Placebo</text>
<text x="0.00" y="0.00" font-size="14" font-weight="bold" text-anchor="start" fill="#000" stroke="#000" stroke-width="0.22" transform="translate(5.20,236.90) scale(1.0,1.07)">d</text>
<line x1="285.90" y1="258.40" x2="285.90" y2="380.10" stroke="#000" stroke-width="1.8"/>
<line x1="281.30" y1="379.20" x2="465.30" y2="379.20" stroke="#000" stroke-width="1.8"/>
<line x1="281.30" y1="379.20" x2="285.90" y2="379.20" stroke="#000" stroke-width="1.8"/>
<text x="0.00" y="0.00" font-size="9.4" font-weight="bold" text-anchor="end" fill="#000" stroke="#000" stroke-width="0.22" transform="translate(280.00,382.55) scale(0.86,1.0)">0</text>
<line x1="281.30" y1="349.23" x2="285.90" y2="349.23" stroke="#000" stroke-width="1.8"/>
<path d="M0.445 0L0.300 0L0.300 -0.505C0.245 -0.455 0.160 -0.410 0.065 -0.380L0.065 -0.510C0.125 -0.530 0.195 -0.570 0.250 -0.625C0.290 -0.665 0.318 -0.700 0.332 -0.716L0.445 -0.716Z" fill="#000" stroke="#000" stroke-width="0.0234" transform="translate(280.00,352.58) scale(0.86,1.0) translate(-5.226,0.000) scale(9.4)"/>
<line x1="281.30" y1="319.25" x2="285.90" y2="319.25" stroke="#000" stroke-width="1.8"/>
<text x="0.00" y="0.00" font-size="9.4" font-weight="bold" text-anchor="end" fill="#000" stroke="#000" stroke-width="0.22" transform="translate(280.00,322.60) scale(0.86,1.0)">2</text>
<line x1="281.30" y1="289.27" x2="285.90" y2="289.27" stroke="#000" stroke-width="1.8"/>
<text x="0.00" y="0.00" font-size="9.4" font-weight="bold" text-anchor="end" fill="#000" stroke="#000" stroke-width="0.22" transform="translate(280.00,292.62) scale(0.86,1.0)">3</text>
<line x1="281.30" y1="259.30" x2="285.90" y2="259.30" stroke="#000" stroke-width="1.8"/>
<text x="0.00" y="0.00" font-size="9.4" font-weight="bold" text-anchor="end" fill="#000" stroke="#000" stroke-width="0.22" transform="translate(280.00,262.65) scale(0.86,1.0)">4</text>
<line x1="300.40" y1="288.38" x2="300.40" y2="318.35" stroke="#000" stroke-width="1.5"/>
<line x1="296.10" y1="288.38" x2="304.70" y2="288.38" stroke="#000" stroke-width="1.4"/>
<line x1="315.40" y1="287.78" x2="315.40" y2="312.06" stroke="#000" stroke-width="1.5"/>
<line x1="311.10" y1="287.78" x2="319.70" y2="287.78" stroke="#000" stroke-width="1.4"/>
<rect x="292.90" y="318.35" width="15.00" height="60.85" fill="#000"/>
<rect x="308.20" y="312.06" width="14.40" height="67.14" fill="#8e8d93" stroke="#828187" stroke-width="0.6"/>
<line x1="307.90" y1="379.20" x2="307.90" y2="383.60" stroke="#000" stroke-width="1.8"/>
<text x="0.00" y="3.30" font-size="9.2" font-weight="bold" text-anchor="middle" fill="#000" stroke="#000" stroke-width="0.22" transform="translate(306.10,389.60) rotate(-45) scale(1.0,1.07)">0</text>
<line x1="345.40" y1="321.95" x2="345.40" y2="337.24" stroke="#000" stroke-width="1.5"/>
<line x1="341.10" y1="321.95" x2="349.70" y2="321.95" stroke="#000" stroke-width="1.4"/>
<line x1="360.40" y1="281.78" x2="360.40" y2="315.95" stroke="#000" stroke-width="1.5"/>
<line x1="356.10" y1="281.78" x2="364.70" y2="281.78" stroke="#000" stroke-width="1.4"/>
<rect x="337.90" y="337.24" width="15.00" height="41.96" fill="#000"/>
<rect x="353.20" y="315.95" width="14.40" height="63.25" fill="#8e8d93" stroke="#828187" stroke-width="0.6"/>
<line x1="352.90" y1="379.20" x2="352.90" y2="383.60" stroke="#000" stroke-width="1.8"/>
<path d="M0.445 0L0.300 0L0.300 -0.505C0.245 -0.455 0.160 -0.410 0.065 -0.380L0.065 -0.510C0.125 -0.530 0.195 -0.570 0.250 -0.625C0.290 -0.665 0.318 -0.700 0.332 -0.716L0.445 -0.716Z" fill="#000" stroke="#000" stroke-width="0.0239" transform="translate(351.10,389.60) rotate(-45) scale(1.0,1.07) translate(-2.558,3.300) scale(9.2)"/>
<text x="0.00" y="0.00" font-size="8.8" font-weight="bold" text-anchor="middle" fill="#000" stroke="#000" stroke-width="0.22" transform="translate(344.60,315.60) scale(1.0,1.07)">**</text>
<line x1="390.40" y1="333.64" x2="390.40" y2="345.03" stroke="#000" stroke-width="1.5"/>
<line x1="386.10" y1="333.64" x2="394.70" y2="333.64" stroke="#000" stroke-width="1.4"/>
<line x1="405.40" y1="289.57" x2="405.40" y2="313.55" stroke="#000" stroke-width="1.5"/>
<line x1="401.10" y1="289.57" x2="409.70" y2="289.57" stroke="#000" stroke-width="1.4"/>
<rect x="382.90" y="345.03" width="15.00" height="34.17" fill="#000"/>
<rect x="398.20" y="313.55" width="14.40" height="65.65" fill="#8e8d93" stroke="#828187" stroke-width="0.6"/>
<line x1="397.90" y1="379.20" x2="397.90" y2="383.60" stroke="#000" stroke-width="1.8"/>
<text x="0.00" y="3.30" font-size="9.2" font-weight="bold" text-anchor="middle" fill="#000" stroke="#000" stroke-width="0.22" transform="translate(396.10,389.60) rotate(-45) scale(1.0,1.07)">3</text>
<text x="0.00" y="0.00" font-size="8.8" font-weight="bold" text-anchor="middle" fill="#000" stroke="#000" stroke-width="0.22" transform="translate(389.60,327.80) scale(1.0,1.07)">****</text>
<line x1="435.40" y1="336.34" x2="435.40" y2="346.23" stroke="#000" stroke-width="1.5"/>
<line x1="431.10" y1="336.34" x2="439.70" y2="336.34" stroke="#000" stroke-width="1.4"/>
<line x1="450.40" y1="290.47" x2="450.40" y2="317.15" stroke="#000" stroke-width="1.5"/>
<line x1="446.10" y1="290.47" x2="454.70" y2="290.47" stroke="#000" stroke-width="1.4"/>
<rect x="427.90" y="346.23" width="15.00" height="32.97" fill="#000"/>
<rect x="443.20" y="317.15" width="14.40" height="62.05" fill="#8e8d93" stroke="#828187" stroke-width="0.6"/>
<line x1="442.90" y1="379.20" x2="442.90" y2="383.60" stroke="#000" stroke-width="1.8"/>
<text x="0.00" y="3.30" font-size="9.2" font-weight="bold" text-anchor="middle" fill="#000" stroke="#000" stroke-width="0.22" transform="translate(441.10,389.60) rotate(-45) scale(1.0,1.07)">6</text>
<text x="0.00" y="0.00" font-size="8.8" font-weight="bold" text-anchor="middle" fill="#000" stroke="#000" stroke-width="0.22" transform="translate(434.60,331.50) scale(1.0,1.07)">****</text>
<line x1="281.30" y1="379.20" x2="465.30" y2="379.20" stroke="#000" stroke-width="1.8"/>
<text x="0.00" y="0.00" font-size="11.4" font-weight="bold" text-anchor="middle" fill="#000" stroke="#000" stroke-width="0.22" transform="translate(375.60,231.20) scale(1.0,1.07)">Diarrhea</text>
<text x="0.00" y="0.00" font-size="9.6" font-weight="bold" text-anchor="middle" fill="#000" stroke="#000" stroke-width="0.22" transform="translate(375.60,407.90) scale(1.0,1.07)">Month</text>
<rect x="344.30" y="257.40" width="12.40" height="6.20" fill="#000"/>
<text x="0.00" y="0.00" font-size="9.5" font-weight="normal" text-anchor="start" fill="#000" stroke="#000" stroke-width="0.22" transform="translate(364.40,263.70) scale(1.0,1.07)">FMT</text>
<rect x="399.20" y="257.70" width="11.8" height="5.6" fill="#8e8d93" stroke="#828187" stroke-width="0.6"/>
<text x="0.00" y="0.00" font-size="9.5" font-weight="normal" text-anchor="start" fill="#000" stroke="#000" stroke-width="0.22" transform="translate(418.90,263.70) scale(1.0,1.07)">Placebo</text>
<text x="0.00" y="0.00" font-size="14" font-weight="bold" text-anchor="start" fill="#000" stroke="#000" stroke-width="0.22" transform="translate(256.50,237.00) scale(1.0,1.07)">e</text>
<line x1="504.65" y1="258.20" x2="504.65" y2="379.70" stroke="#000" stroke-width="1.8"/>
<line x1="500.05" y1="378.80" x2="683.45" y2="378.80" stroke="#000" stroke-width="1.8"/>
<line x1="500.05" y1="378.80" x2="504.65" y2="378.80" stroke="#000" stroke-width="1.8"/>
<text x="0.00" y="0.00" font-size="9.4" font-weight="bold" text-anchor="end" fill="#000" stroke="#000" stroke-width="0.22" transform="translate(498.75,382.15) scale(0.86,1.0)">0</text>
<line x1="500.05" y1="348.88" x2="504.65" y2="348.88" stroke="#000" stroke-width="1.8"/>
<path d="M0.445 0L0.300 0L0.300 -0.505C0.245 -0.455 0.160 -0.410 0.065 -0.380L0.065 -0.510C0.125 -0.530 0.195 -0.570 0.250 -0.625C0.290 -0.665 0.318 -0.700 0.332 -0.716L0.445 -0.716Z" fill="#000" stroke="#000" stroke-width="0.0234" transform="translate(498.75,352.23) scale(0.86,1.0) translate(-5.226,0.000) scale(9.4)"/>
<line x1="500.05" y1="318.95" x2="504.65" y2="318.95" stroke="#000" stroke-width="1.8"/>
<text x="0.00" y="0.00" font-size="9.4" font-weight="bold" text-anchor="end" fill="#000" stroke="#000" stroke-width="0.22" transform="translate(498.75,322.30) scale(0.86,1.0)">2</text>
<line x1="500.05" y1="289.03" x2="504.65" y2="289.03" stroke="#000" stroke-width="1.8"/>
<text x="0.00" y="0.00" font-size="9.4" font-weight="bold" text-anchor="end" fill="#000" stroke="#000" stroke-width="0.22" transform="translate(498.75,292.38) scale(0.86,1.0)">3</text>
<line x1="500.05" y1="259.10" x2="504.65" y2="259.10" stroke="#000" stroke-width="1.8"/>
<text x="0.00" y="0.00" font-size="9.4" font-weight="bold" text-anchor="end" fill="#000" stroke="#000" stroke-width="0.22" transform="translate(498.75,262.45) scale(0.86,1.0)">4</text>
<line x1="519.15" y1="287.23" x2="519.15" y2="311.47" stroke="#000" stroke-width="1.5"/>
<line x1="514.85" y1="287.23" x2="523.45" y2="287.23" stroke="#000" stroke-width="1.4"/>
<line x1="534.15" y1="290.22" x2="534.15" y2="312.97" stroke="#000" stroke-width="1.5"/>
<line x1="529.85" y1="290.22" x2="538.45" y2="290.22" stroke="#000" stroke-width="1.4"/>
<rect x="511.65" y="311.47" width="15.00" height="67.33" fill="#000"/>
<rect x="526.95" y="312.97" width="14.40" height="65.83" fill="#8e8d93" stroke="#828187" stroke-width="0.6"/>
<line x1="526.65" y1="378.80" x2="526.65" y2="383.20" stroke="#000" stroke-width="1.8"/>
<text x="0.00" y="3.30" font-size="9.2" font-weight="bold" text-anchor="middle" fill="#000" stroke="#000" stroke-width="0.22" transform="translate(524.85,389.20) rotate(-45) scale(1.0,1.07)">0</text>
<line x1="564.00" y1="312.37" x2="564.00" y2="333.91" stroke="#000" stroke-width="1.5"/>
<line x1="559.70" y1="312.37" x2="568.30" y2="312.37" stroke="#000" stroke-width="1.4"/>
<line x1="579.00" y1="286.03" x2="579.00" y2="311.17" stroke="#000" stroke-width="1.5"/>
<line x1="574.70" y1="286.03" x2="583.30" y2="286.03" stroke="#000" stroke-width="1.4"/>
<rect x="556.50" y="333.91" width="15.00" height="44.89" fill="#000"/>
<rect x="571.80" y="311.17" width="14.40" height="67.63" fill="#8e8d93" stroke="#828187" stroke-width="0.6"/>
<line x1="571.50" y1="378.80" x2="571.50" y2="383.20" stroke="#000" stroke-width="1.8"/>
<path d="M0.445 0L0.300 0L0.300 -0.505C0.245 -0.455 0.160 -0.410 0.065 -0.380L0.065 -0.510C0.125 -0.530 0.195 -0.570 0.250 -0.625C0.290 -0.665 0.318 -0.700 0.332 -0.716L0.445 -0.716Z" fill="#000" stroke="#000" stroke-width="0.0239" transform="translate(569.70,389.20) rotate(-45) scale(1.0,1.07) translate(-2.558,3.300) scale(9.2)"/>
<text x="0.00" y="0.00" font-size="8.8" font-weight="bold" text-anchor="middle" fill="#000" stroke="#000" stroke-width="0.22" transform="translate(563.20,306.80) scale(1.0,1.07)">**</text>
<line x1="608.85" y1="316.56" x2="608.85" y2="336.01" stroke="#000" stroke-width="1.5"/>
<line x1="604.55" y1="316.56" x2="613.15" y2="316.56" stroke="#000" stroke-width="1.4"/>
<line x1="623.85" y1="291.12" x2="623.85" y2="313.56" stroke="#000" stroke-width="1.5"/>
<line x1="619.55" y1="291.12" x2="628.15" y2="291.12" stroke="#000" stroke-width="1.4"/>
<rect x="601.35" y="336.01" width="15.00" height="42.79" fill="#000"/>
<rect x="616.65" y="313.56" width="14.40" height="65.24" fill="#8e8d93" stroke="#828187" stroke-width="0.6"/>
<line x1="616.35" y1="378.80" x2="616.35" y2="383.20" stroke="#000" stroke-width="1.8"/>
<text x="0.00" y="3.30" font-size="9.2" font-weight="bold" text-anchor="middle" fill="#000" stroke="#000" stroke-width="0.22" transform="translate(614.55,389.20) rotate(-45) scale(1.0,1.07)">3</text>
<text x="0.00" y="0.00" font-size="8.8" font-weight="bold" text-anchor="middle" fill="#000" stroke="#000" stroke-width="0.22" transform="translate(608.05,308.10) scale(1.0,1.07)">***</text>
<line x1="653.70" y1="333.61" x2="653.70" y2="344.98" stroke="#000" stroke-width="1.5"/>
<line x1="649.40" y1="333.61" x2="658.00" y2="333.61" stroke="#000" stroke-width="1.4"/>
<line x1="668.70" y1="292.62" x2="668.70" y2="314.76" stroke="#000" stroke-width="1.5"/>
<line x1="664.40" y1="292.62" x2="673.00" y2="292.62" stroke="#000" stroke-width="1.4"/>
<rect x="646.20" y="344.98" width="15.00" height="33.82" fill="#000"/>
<rect x="661.50" y="314.76" width="14.40" height="64.04" fill="#8e8d93" stroke="#828187" stroke-width="0.6"/>
<line x1="661.20" y1="378.80" x2="661.20" y2="383.20" stroke="#000" stroke-width="1.8"/>
<text x="0.00" y="3.30" font-size="9.2" font-weight="bold" text-anchor="middle" fill="#000" stroke="#000" stroke-width="0.22" transform="translate(659.40,389.20) rotate(-45) scale(1.0,1.07)">6</text>
<text x="0.00" y="0.00" font-size="8.8" font-weight="bold" text-anchor="middle" fill="#000" stroke="#000" stroke-width="0.22" transform="translate(652.90,331.00) scale(1.0,1.07)">****</text>
<line x1="500.05" y1="378.80" x2="683.45" y2="378.80" stroke="#000" stroke-width="1.8"/>
<text x="0.00" y="0.00" font-size="11.4" font-weight="bold" text-anchor="middle" fill="#000" stroke="#000" stroke-width="0.22" transform="translate(594.35,231.00) scale(1.0,1.07)">Constipation</text>
<text x="0.00" y="0.00" font-size="9.6" font-weight="bold" text-anchor="middle" fill="#000" stroke="#000" stroke-width="0.22" transform="translate(594.35,407.50) scale(1.0,1.07)">Month</text>
<rect x="563.05" y="257.40" width="12.40" height="6.20" fill="#000"/>
<text x="0.00" y="0.00" font-size="9.5" font-weight="normal" text-anchor="start" fill="#000" stroke="#000" stroke-width="0.22" transform="translate(583.15,263.70) scale(1.0,1.07)">FMT</text>
<rect x="617.95" y="257.70" width="11.8" height="5.6" fill="#8e8d93" stroke="#828187" stroke-width="0.6"/>
<text x="0.00" y="0.00" font-size="9.5" font-weight="normal" text-anchor="start" fill="#000" stroke="#000" stroke-width="0.22" transform="translate(637.65,263.70) scale(1.0,1.07)">Placebo</text>
<text x="0.00" y="0.00" font-size="14" font-weight="bold" text-anchor="start" fill="#000" stroke="#000" stroke-width="0.22" transform="translate(481.20,236.80) scale(1.0,1.07)">f</text>
</svg>
</body></html>
